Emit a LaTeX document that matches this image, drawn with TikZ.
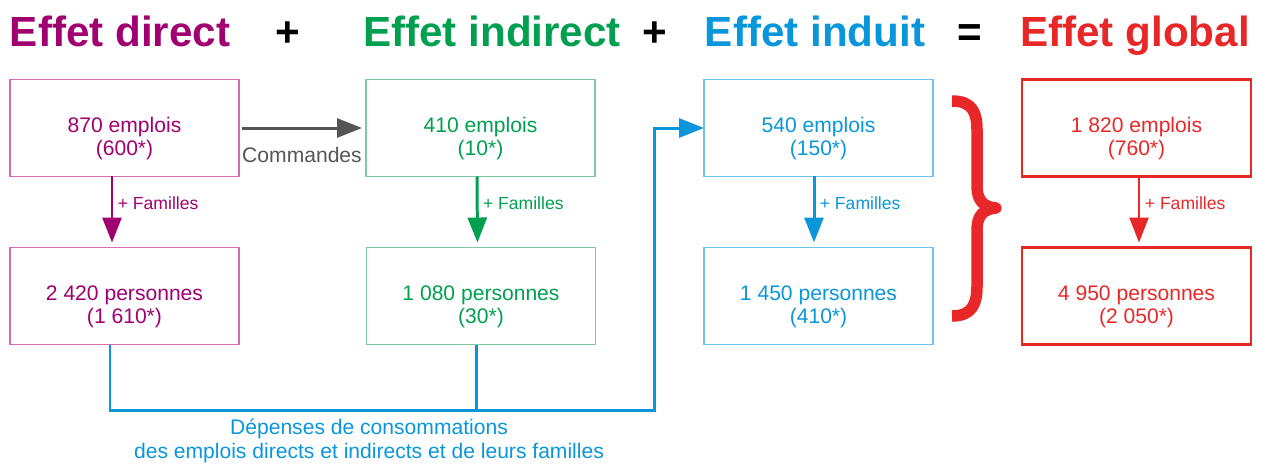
\documentclass[tikz,border=0pt]{standalone}
\usepackage{fontspec}
\setmainfont{Liberation Sans}
\usetikzlibrary{arrows.meta}

\definecolor{directcol}{RGB}{160,0,112}
\definecolor{directline}{RGB}{212,110,175}
\definecolor{indirectcol}{RGB}{0,160,80}
\definecolor{indirectline}{RGB}{125,200,165}
\definecolor{induitcol}{RGB}{10,150,218}
\definecolor{induitline}{RGB}{110,195,235}
\definecolor{globalcol}{RGB}{232,40,40}
\definecolor{cmdgray}{RGB}{85,85,85}

\begin{document}
\begin{tikzpicture}[x=0.02cm, y=-0.02cm,
        every node/.style={outer sep=0pt, align=center, font=\fontsize{12}{13.2}\selectfont},
        title/.style={font=\fontsize{24}{28}\selectfont\bfseries, anchor=base},
        box/.style={draw, line width=0.7pt, minimum width=4.58cm, minimum height=1.94cm},
        boxtxt/.style={yshift=-0.21cm},
        arrow/.style={line width=1.7pt, -{Triangle[length=0.5cm, width=0.38cm]}},
        fam/.style={font=\fontsize{10}{12}\selectfont, right, pos=0.38}]
        \useasboundingbox (0,0) rectangle (1267,464);

        % titles
        \node[title, text=directcol](t_direct) at (120, 46) {Effet direct};
        \node[title](plus_one) at (288, 46) {+};
        \node[title, text=indirectcol](t_indirect) at (492, 46) {Effet indirect};
        \node[title](plus_two) at (655, 46) {+};
        \node[title, text=induitcol](t_induit) at (815, 46) {Effet induit};
        \node[title](equals) at (970, 46) {=};
        \node[title, text=globalcol](t_global) at (1135, 46) {Effet global};

        % boxes
        \node[box, draw=directline](direct_top) at (124.5, 128) {};
        \node[box, draw=directline](direct_bottom) at (124.5, 296) {};
        \node[box, draw=indirectline](indirect_top) at (480.5, 128) {};
        \node[box, draw=indirectline](indirect_bottom) at (481, 296) {};
        \node[box, draw=induitline](induit_top) at (818.5, 128) {};
        \node[box, draw=induitline](induit_bottom) at (818.5, 296) {};
        \node[box, draw=globalcol, line width=1.3pt](global_top) at (1136.5, 128) {};
        \node[box, draw=globalcol, line width=1.3pt](global_bottom) at (1136.5, 296) {};

        \node[boxtxt, text=directcol](direct_top_txt) at (direct_top) {870 emplois\\(600*)};
        \node[boxtxt, text=directcol](direct_bottom_txt) at (direct_bottom) {2 420 personnes\\(1 610*)};
        \node[boxtxt, text=indirectcol](indirect_top_txt) at (indirect_top) {410 emplois\\(10*)};
        \node[boxtxt, text=indirectcol](indirect_bottom_txt) at (indirect_bottom) {1 080 personnes\\(30*)};
        \node[boxtxt, text=induitcol](induit_top_txt) at (induit_top) {540 emplois\\(150*)};
        \node[boxtxt, text=induitcol](induit_bottom_txt) at (induit_bottom) {1 450 personnes\\(410*)};
        \node[boxtxt, text=globalcol](global_top_txt) at (global_top) {1 820 emplois\\(760*)};
        \node[boxtxt, text=globalcol](global_bottom_txt) at (global_bottom) {4 950 personnes\\(2 050*)};

        % + Familles
        \draw[arrow, directcol, shorten >=0.1cm] ([xshift=-0.25cm]direct_top.south) -- node[fam](fam_direct){+ Familles} ([xshift=-0.25cm]direct_bottom.north);
        \draw[arrow, indirectcol, shorten >=0.1cm] ([xshift=-0.07cm]indirect_top.south) -- node[fam](fam_indirect){+ Familles} ([xshift=-0.07cm]indirect_bottom.north);
        \draw[arrow, induitcol, shorten >=0.1cm] ([xshift=-0.09cm]induit_top.south) -- node[fam](fam_induit){+ Familles} ([xshift=-0.09cm]induit_bottom.north);
        \draw[arrow, globalcol, line width=1.3pt, shorten >=0.1cm] ([xshift=0.05cm]global_top.south) -- node[fam](fam_global){+ Familles} ([xshift=0.05cm]global_bottom.north);

        % commandes
        \draw[arrow, cmdgray, shorten <=0.06cm, shorten >=0.08cm] (direct_top.east) -- (indirect_top.west);
        \node[text=cmdgray](cmd_label) at (302, 155) {Commandes};

        % depenses
        \coordinate (spend_turn) at (654, 410);
        \draw[arrow, induitcol] ([xshift=-0.29cm]direct_bottom.south) |- (spend_turn) |- (induit_top.west);
        \draw[line width=1.7pt, induitcol] ([xshift=-0.09cm]indirect_bottom.south) |- (spend_turn);
        \node[text=induitcol](spend_label) at (369, 441) {Dépenses de consommations\\des emplois directs et indirects et de leurs familles};

        % accolade
        \draw[globalcol, line width=0.23cm, line join=round]
        (952,101) .. controls (972,101) and (977,112) .. (977,130) -- (977,186)
        .. controls (977,200) and (983,207) .. (996,208)
        .. controls (983,209) and (977,216) .. (977,230) -- (977,286)
        .. controls (977,304) and (972,316) .. (952,316);
    \end{tikzpicture}
\end{document}
